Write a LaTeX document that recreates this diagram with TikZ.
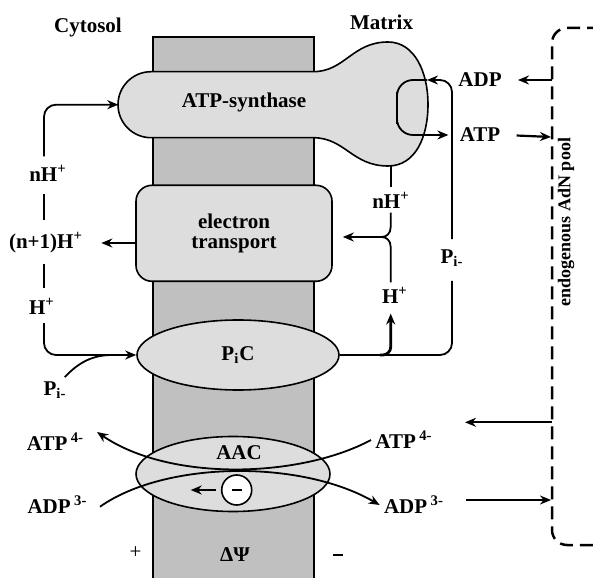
\documentclass[tikz,border=0pt]{standalone}
\usepackage{fontspec}
\setmainfont{Liberation Serif}
\usepackage{tikz}
\usetikzlibrary{arrows.meta,shapes.geometric}
\definecolor{membrangrau}{HTML}{C0C0C0}
\definecolor{proteingrau}{HTML}{DDDDDD}
\tikzset{
  lbl/.style={font=\fontsize{10.5}{10}\selectfont\bfseries, inner sep=2pt},
  protein/.style={draw, fill=proteingrau, line width=0.8pt},
  flow/.style={->, line width=0.9pt},
  bigflow/.style={->, line width=1.4pt},
  poolflow/.style={->, line width=1.1pt},
  pooldash/.style={line width=1.25pt, dash pattern=on 6.5pt off 3.5pt},
  >={Stealth[length=5.5pt,width=4.5pt]}
}

\begin{document}
\begin{tikzpicture}[x=0.5pt,y=0.5pt]
  \useasboundingbox (0,0) rectangle (593,578);
  % Membran
  \fill[membrangrau] (153.3,0) rectangle (314.3,541.3);
  \draw[line width=1pt] (153.3,0) -- (153.3,541.3) -- (314.3,541.3) -- (314.3,0);
  \node[lbl] (cyto) at (88,551) {Cytosol};
  \node[lbl] (matrix) at (381.5,556) {Matrix};
  % ATP-Synthase (Stiel + Kopf in der Matrix)
  \draw[protein] (151,506.3) -- (313,506.3)
    .. controls (345,506.3) and (352,536) .. (388,536)
    .. controls (415,536) and (428,505) .. (428,474)
    .. controls (428,440) and (415,412) .. (388,412)
    .. controls (352,412) and (345,440.3) .. (313,440.3)
    -- (151,440.3) arc[start angle=270,end angle=90,radius=33] -- cycle;
  \node[lbl] (atps) at (244,475.3) {ATP-synthase};
  \coordinate (atpsw) at (118.3,473.3);
  \coordinate (bulbin) at (427,498);
  \coordinate (bulbs) at (390.7,412);
  \coordinate (loop) at (397,470);
  % Elektronentransport und Phosphatcarrier
  \node[protein, lbl, rounded corners=8pt, minimum width=98pt, minimum height=48pt, align=center] (et) at (234,344.7) {electron\\transport};
  \node[protein, lbl, ellipse, minimum width=101pt, minimum height=35pt] (pic) at (238,223) {P\textsubscript{i}C};
  % Protonen, Cytosol-Seite
  \coordinate (hx) at (44,0);
  \node[lbl] (nhl) at (48,405) {nH\textsuperscript{+}};
  \node[lbl] (nphl) at (46,335) {(n+1)H\textsuperscript{+}};
  \node[lbl] (hl) at (42,271.3) {H\textsuperscript{+}};
  \node[lbl] (pil) at (55,188) {P\textsubscript{i-}};
  \draw[flow, rounded corners=6pt, shorten <=2pt] (nhl.north -| hx) |- (atpsw);
  \draw[line width=0.9pt, shorten <=4pt, shorten >=4pt] (nhl.south -| hx) -- (nphl.north -| hx);
  \draw[line width=0.9pt, shorten <=3pt, shorten >=3pt] (nphl.south -| hx) -- (hl.north -| hx);
  \draw[flow, rounded corners=6pt, shorten <=2pt] (hl.south -| hx) |- (pic.west);
  \draw[line width=0.9pt] ([xshift=-3pt]pil.north east) .. controls (78,215) and (92,223) .. (112,223);
  \draw[bigflow, shorten >=7pt] (et.west |- nphl) -- (nphl.east);
  % Protonen, Matrix-Seite
  \node[lbl] (nhr) at (391,378) {nH\textsuperscript{+}};
  \node[lbl] (hr) at (395,283) {H\textsuperscript{+}};
  \node[lbl] (pir) at (452,320) {P\textsubscript{i-}};
  \coordinate (cusp) at (381.7,341);
  \draw[line width=0.9pt] (bulbs) -- (bulbs |- nhr.north);
  \draw[line width=0.9pt] (nhr.south -| bulbs) -- (390.7,351)
    .. controls (390.7,344) and (386,341) .. (cusp)
    .. controls (386,341) and (390.7,338) .. (390.7,331) -- (hr.north -| bulbs);
  \draw[flow, shorten >=5pt] (cusp) -- (et.east |- cusp);
  \draw[bigflow, rounded corners=4pt, shorten >=3pt] ([xshift=20pt]pic.east) -| (hr.south -| bulbs);
  % Phosphat zur ATP-Synthase, ADP/ATP
  \node[lbl] (adpr) at (480,498) {ADP};
  \node[lbl] (atpr) at (480,443) {ATP};
  \draw[line width=0.9pt, rounded corners=6pt, shorten >=5pt] (pic.east) -| (pir.south);
  \draw[flow, rounded corners=6pt, shorten <=3pt] (pir.north) |- (bulbin);
  \draw[flow, rounded corners=8pt, shorten >=3.5pt] (bulbin) -| (loop) |- (atpr.west);
  % AdN-Pool
  \draw[pooldash, rounded corners=7.5pt] (600,550) -- (552,550) -- (552,33) -- (600,33);
  \node[lbl, font=\fontsize{9}{10}\selectfont\bfseries, rotate=90] (pool) at (566,356) {endogenous AdN pool};
  \coordinate (padp) at (552,498);
  \coordinate (patp) at (551,441);
  \coordinate (patpb) at (552,155.7);
  \coordinate (patpbtip) at (465,155.7);
  \coordinate (padpb) at (465.7,78);
  \coordinate (padpbtip) at (551,78);
  \draw[poolflow, shorten >=6pt] (padp) -- (adpr.east);
  \draw[poolflow, shorten <=6pt] (atpr.east) -- (patp);
  \draw[poolflow] (patpb) -- (patpbtip);
  \draw[poolflow] (padpb) -- (padpbtip);
  % Adeninnukleotid-Carrier
  \node[protein, ellipse, minimum width=97pt, minimum height=37.5pt] (aac) at (233,104) {};
  \node[lbl] (aacl) at (239,125) {AAC};
  \node[lbl] (atp4l) at (55.5,136.3) {ATP\,\textsuperscript{4-}};
  \node[lbl] (adp3l) at (57.5,73) {ADP\,\textsuperscript{3-}};
  \node[lbl] (atp4r) at (404,138) {ATP\,\textsuperscript{4-}};
  \node[lbl] (adp3r) at (414,73) {ADP\,\textsuperscript{3-}};
  \coordinate (atpout) at (97,146);
  \coordinate (adpin) at (100,71.3);
  \draw[flow] (atp4r.west) .. controls (300,100) and (170,96) .. (atpout);
  \draw[flow] (adpin) .. controls (165,117) and (300,119) .. (adp3r.west);
  \node[draw, fill=white, circle, line width=0.8pt, minimum size=15pt, inner sep=0pt] (neg) at (236.7,88) {\rule{5pt}{1.4pt}};
  \coordinate (negtip) at (190.7,88);
  \draw[bigflow, shorten <=2.5pt] (neg.west) -- (negtip);
  % Membranpotential
  \node[font=\fontsize{10.5}{12}\selectfont] (plus) at (135.5,25) {+};
  \node[lbl] (psi) at (235,23) {ΔΨ};
  \node[inner sep=2pt] (minus) at (338,23) {\rule{5pt}{1.4pt}};
\end{tikzpicture}
\end{document}
